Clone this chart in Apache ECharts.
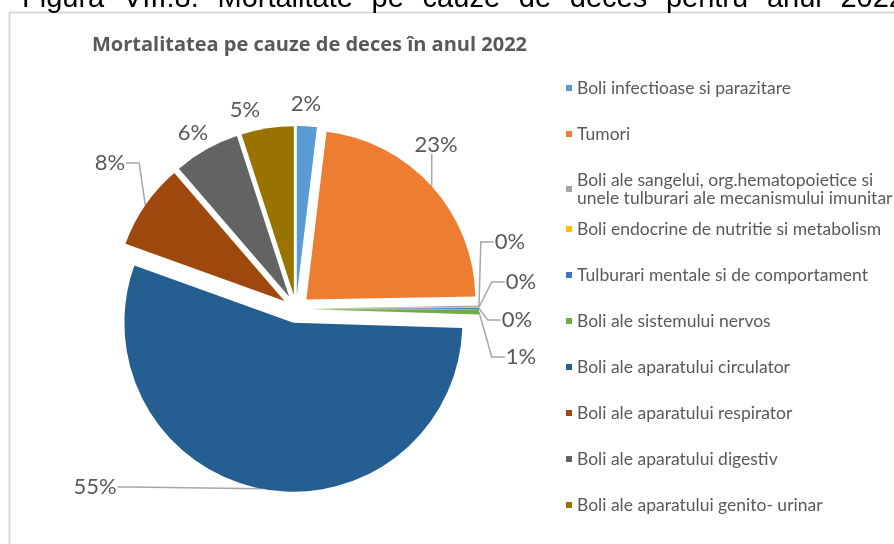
<!DOCTYPE html>
<html>
<head>
<meta charset="utf-8">
<script src="https://cdn.jsdelivr.net/npm/echarts@6/dist/echarts.min.js"></script>
<style>
  html, body { margin: 0; padding: 0; background: #fff; }
  #main { width: 894px; height: 544px; }
</style>
</head>
<body>
<div id="main"></div>
<script>
// categories (cauze de deces) and share of deaths, 2022
var categories = [
  'Boli infectioase si parazitare',
  'Tumori',
  'Boli ale sangelui, org.hematopoietice si\nunele tulburari ale mecanismului imunitar',
  'Boli endocrine de nutritie si metabolism',
  'Tulburari mentale si de comportament',
  'Boli ale sistemului nervos',
  'Boli ale aparatului circulator',
  'Boli ale aparatului respirator',
  'Boli ale aparatului digestiv',
  'Boli ale aparatului genito- urinar'
];
var values = [1.9, 22.8, 0.1, 0.1, 0.1, 0.5, 55.0, 8.2, 6.3, 5.0];
var colors = ['#5B9BD5', '#ED7D31', '#A5A5A5', '#FFC000', '#4472C4', '#70AD47', '#255E91', '#9E480E', '#636363', '#997300'];

var caption = 'Figura VIII.8. Mortalitate pe cauze de deces pentru anul 2022';
var chartTitle = 'Mortalitatea pe cauze de deces în anul 2022';

// label centres, like the Excel "best fit" placement; slices whose label has no leader line
var labelPos = [
  [306, 104], [436, 145], [510, 242], [521, 282], [517, 320],
  [521, 357], [95, 487], [110, 163], [193, 133], [245, 110]
];
var noLeader = [0, 8, 9];

var pieCenter = [296, 309];
var pieRadius = 169;
var explode = 14;

var myChart = echarts.init(document.getElementById('main'));

// every slice is pulled out along its own bisector (exploded pie):
// one pie series per slice, the other slices left transparent
var total = values.reduce(function (a, b) { return a + b; }, 0);
var anchors = [];
var series = [];
var cum = 0;
values.forEach(function (v, k) {
  var mid = (cum + v / 2) / total * Math.PI * 2;
  cum += v;
  var c = [pieCenter[0] + explode * Math.sin(mid), pieCenter[1] - explode * Math.cos(mid)];
  anchors[k] = [c[0] + pieRadius * Math.sin(mid), c[1] - pieRadius * Math.cos(mid)];
  series.push({
    type: 'pie',
    center: c,
    radius: pieRadius,
    startAngle: 90,
    clockwise: true,
    silent: true,
    avoidLabelOverlap: false,
    emphasis: { disabled: true },
    data: values.map(function (val, i) {
      var own = i === k;
      return {
        name: categories[i],
        value: val,
        itemStyle: { color: own ? colors[i] : 'rgba(0,0,0,0)' },
        label: { show: own },
        labelLine: { show: own && noLeader.indexOf(i) < 0 }
      };
    }),
    label: {
      position: 'outside',
      color: '#595959',
      fontFamily: 'Lato',
      fontSize: 22,
      formatter: function (p) { return Math.round(p.percent) + '%'; }
    },
    labelLine: {
      length: 10,
      length2: 14,
      lineStyle: { color: '#a6a6a6', width: 1.5 }
    },
    labelLayout: function (p) {
      if (p.dataIndex !== k) return {};
      var pos = labelPos[k];
      var out = { x: pos[0], y: pos[1], align: 'center', verticalAlign: 'middle' };
      if (noLeader.indexOf(k) < 0) {
        var a = anchors[k];
        var w = p.labelRect.width, h = p.labelRect.height;
        if (Math.abs(pos[0] - a[0]) < w / 2) {
          // label sits over the slice: straight line to its bottom
          var ey = pos[1] + (a[1] > pos[1] ? h / 2 - 2 : -h / 2 + 2);
          out.labelLinePoints = [a, [a[0], (a[1] + ey) / 2], [a[0], ey]];
        } else {
          var side = pos[0] > a[0] ? -1 : 1;
          var ex = pos[0] + side * (w / 2 + 1);
          out.labelLinePoints = [a, [ex + side * 13, pos[1]], [ex, pos[1]]];
        }
      }
      return out;
    }
  });
});

// justified caption line (only its lower part is visible, as in the cropped source)
var capFont = '29px "Liberation Sans"';
var capWords = caption.split(' ');
var ctx = document.createElement('canvas').getContext('2d');
ctx.font = capFont;
var wordW = capWords.map(function (w) { return ctx.measureText(w).width; });
var sumW = wordW.reduce(function (a, b) { return a + b; }, 0);
var capLeft = 22, capRight = 905;
var gap = (capRight - capLeft - sumW) / (capWords.length - 1);
var capGraphics = [];
var cx = capLeft;
capWords.forEach(function (w, k) {
  capGraphics.push({
    type: 'text',
    x: cx,
    y: -16,
    silent: true,
    style: { text: w, fill: '#000', font: capFont, verticalAlign: 'top' }
  });
  cx += wordW[k] + gap;
});

var legendText = {
  color: '#595959',
  fontFamily: 'Lato',
  fontSize: 17.5,
  lineHeight: 18
};
var legendItems = categories.map(function (name, i) {
  return { name: name, itemStyle: { color: colors[i] } };
});

var option = {
  animation: false,
  title: {
    text: chartTitle,
    left: 87,
    top: 30,
    textStyle: {
      color: '#595959',
      fontFamily: 'Open Sans',
      fontWeight: 'bold',
      fontSize: 20
    }
  },
  graphic: [
    {
      type: 'rect',
      shape: { x: 9.5, y: 12.5, width: 900, height: 560 },
      style: { fill: 'none', stroke: '#d9d9d9', lineWidth: 2 },
      silent: true
    }
  ].concat(capGraphics),
  legend: [
    {
      orient: 'vertical',
      left: 561,
      top: 74,
      itemWidth: 6,
      itemHeight: 6,
      itemGap: 28,
      icon: 'rect',
      selectedMode: false,
      data: legendItems.slice(0, 3),
      textStyle: legendText
    },
    {
      orient: 'vertical',
      left: 561,
      top: 215,
      itemWidth: 6,
      itemHeight: 6,
      itemGap: 28,
      icon: 'rect',
      selectedMode: false,
      data: legendItems.slice(3),
      textStyle: legendText
    }
  ],
  series: series
};
myChart.setOption(option);
</script>
</body>
</html>
